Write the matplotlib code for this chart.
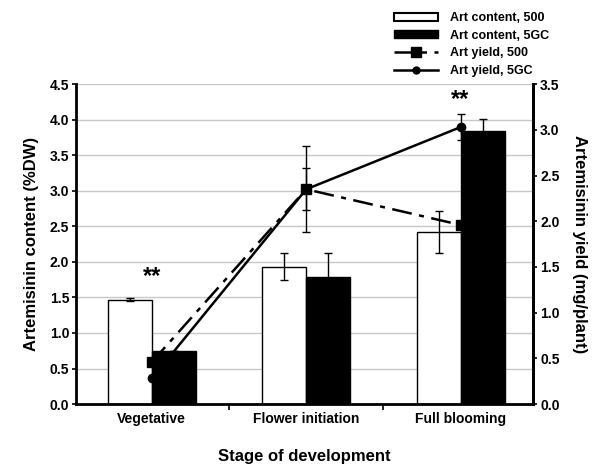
import matplotlib
matplotlib.use("Agg")
import matplotlib.pyplot as plt
from matplotlib.lines import Line2D
from matplotlib.patches import Patch
import numpy as np

stages = ["Vegetative", "Flower initiation", "Full blooming"]
content_500 = [1.47, 1.93, 2.42]
content_500_err = [0.02, 0.19, 0.29]
content_5gc = [0.75, 1.79, 3.84]
content_5gc_err = [0.0, 0.33, 0.17]
yield_500 = [0.46, 2.35, 1.96]
yield_500_err = [0.0, 0.47, 0.0]
yield_5gc = [0.28, 2.35, 3.03]
yield_5gc_err = [0.0, 0.23, 0.14]

plt.rcParams["font.family"] = ["Liberation Sans", "DejaVu Sans"]
plt.rcParams["font.weight"] = "bold"

fig = plt.figure(figsize=(5.95, 4.65), dpi=100)
ax = fig.add_axes([0.128, 0.131, 0.768, 0.688])
ax2 = ax.twinx()
ax.set_zorder(ax2.zorder + 1)
ax.patch.set_visible(False)

ax.set_xlim(-0.49, 2.47)
ax.set_ylim(0, 4.5)
ax2.set_ylim(0, 3.5)

x = np.arange(len(stages))
w = 0.285
ax.set_axisbelow(True)
ax.yaxis.grid(True, color="#c8c8c8", lw=1.0)

# white bars, then yield lines, then black bars on top
ax.bar(x - w / 2, content_500, w, color="white", edgecolor="black", lw=1.0, zorder=2,
       yerr=content_500_err, error_kw=dict(ecolor="black", capsize=3, elinewidth=1, zorder=2))
ax.errorbar(x, yield_500, yerr=yield_500_err, color="black", ls=(0, (8, 3, 2, 3)), lw=1.8,
            marker="s", ms=7, capsize=3, elinewidth=1, zorder=3, transform=ax2.transData)
ax.errorbar(x, yield_5gc, yerr=yield_5gc_err, color="black", ls="-", lw=1.8,
            marker="o", ms=6, capsize=3, elinewidth=1, zorder=3, transform=ax2.transData)
ax.bar(x + w / 2, content_5gc, w, color="black", edgecolor="black", lw=1.0, zorder=4,
       yerr=content_5gc_err, error_kw=dict(ecolor="black", capsize=3, elinewidth=1, zorder=4))

# significance marks
ax.text(x[0], 1.63, "**", ha="center", va="bottom", fontsize=17, fontweight="bold")
ax.text(x[2], 4.12, "**", ha="center", va="bottom", fontsize=17, fontweight="bold")

ax.set_yticks(np.arange(0, 4.51, 0.5))
ax2.set_yticks(np.arange(0, 3.51, 0.5))
ax.yaxis.set_major_formatter(matplotlib.ticker.FormatStrFormatter("%.1f"))
ax2.yaxis.set_major_formatter(matplotlib.ticker.FormatStrFormatter("%.1f"))
ax.set_xticks(x)
ax.set_xticklabels(stages, fontsize=10, fontweight="bold")
ax.set_xticks([0.5, 1.5], minor=True)
ax.tick_params(axis="x", which="major", length=0, pad=6)
ax.tick_params(axis="x", which="minor", length=4, width=1.2, direction="out")
ax.tick_params(axis="y", labelsize=10, length=3, width=1.2, pad=2)
ax2.tick_params(axis="y", labelsize=10, length=3, width=1.2, pad=2)
for a in (ax, ax2):
    a.spines["top"].set_visible(False)
    for s in ("left", "right", "bottom"):
        a.spines[s].set_linewidth(2)
ax2.spines["left"].set_visible(False)
ax2.spines["bottom"].set_visible(False)

ax.set_ylabel("Artemisinin content (%DW)", fontsize=12, fontweight="bold", labelpad=8)
ax2.set_ylabel("Artemisinin yield (mg/plant)", fontsize=12, fontweight="bold",
               rotation=270, labelpad=20)
ax.set_xlabel("Stage of development", fontsize=12, fontweight="bold", labelpad=16)

handles = [
    Patch(facecolor="white", edgecolor="black", lw=1.5),
    Patch(facecolor="black", edgecolor="black"),
    Line2D([], [], color="black", ls=(0, (8, 3, 2, 3)), lw=1.8, marker="s", ms=7),
    Line2D([], [], color="black", ls="-", lw=1.8, marker="o", ms=5),
]
labels = ["Art content, 500", "Art content, 5GC", "Art yield, 500", "Art yield, 5GC"]
fig.legend(handles, labels, loc="upper left", bbox_to_anchor=(0.65, 0.99), frameon=False,
           prop=dict(size=9, weight="bold"), handlelength=3.5, handleheight=0.6,
           labelspacing=0.45, handletextpad=1.0, borderaxespad=0.2)

fig.savefig("out.png", dpi=100)
